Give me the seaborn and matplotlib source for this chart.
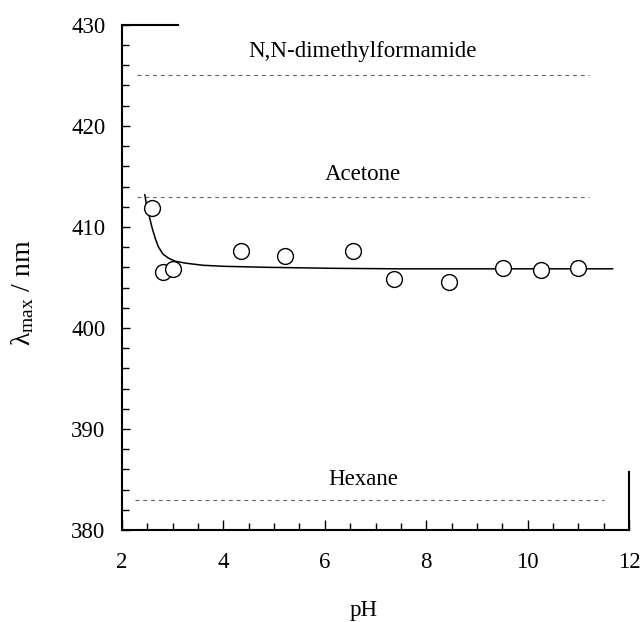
import matplotlib
matplotlib.use("Agg")
import matplotlib.pyplot as plt
from matplotlib.ticker import MultipleLocator
import seaborn as sns
import pandas as pd

# Measured absorption maxima vs. pH
ph_points = [2.59, 2.81, 3.00, 4.35, 5.21, 6.55, 7.37, 8.44, 9.51, 10.26, 10.99]
lambda_points = [411.9, 405.5, 405.8, 407.6, 407.1, 407.6, 404.8, 404.5, 405.9, 405.7, 405.9]

# Fitted curve
ph_curve = [2.45, 2.48, 2.51, 2.55, 2.60, 2.66, 2.72, 2.81, 2.92, 3.05, 3.27, 3.6, 4.0,
            4.85, 6.17, 7.48, 9.5, 11.68]
lambda_curve = [413.2, 412.3, 411.6, 410.8, 409.8, 408.8, 408.0, 407.3, 406.9, 406.6, 406.4,
                406.2, 406.1, 406.0, 405.9, 405.85, 405.85, 405.85]

# Reference solvents
solvents = ["N,N-dimethylformamide", "Acetone", "Hexane"]
solvent_lambda = [425.0, 413.0, 383.0]
solvent_label_y = [427.4, 415.2, 385.0]

sns.set_theme(style="ticks")
plt.rcParams["font.family"] = ["Liberation Serif", "DejaVu Serif"]
plt.rcParams["mathtext.fontset"] = "custom"
plt.rcParams["mathtext.rm"] = "Liberation Serif"
plt.rcParams["mathtext.it"] = "Liberation Serif:italic"
for key in ["text.color", "axes.labelcolor", "xtick.color", "ytick.color",
            "xtick.labelcolor", "ytick.labelcolor"]:
    plt.rcParams[key] = "black"

fig = plt.figure(figsize=(6.42, 6.22), dpi=100)
ax = fig.add_axes([0.190, 0.148, 0.790, 0.812])

for lam in solvent_lambda:
    if lam == 383.0:
        ax.hlines(lam, 2.25, 11.5, colors="#666666", linestyles=(0, (3.5, 3.5)), linewidth=0.8)
    else:
        ax.hlines(lam, 2.3, 11.2, colors="#666666", linestyles=(0, (3.5, 3.5)), linewidth=0.8)

for name, ly in zip(solvents, solvent_label_y):
    ax.text(6.75, ly, name, ha="center", va="center", fontsize=16.5, color="black")

curve = pd.DataFrame({"pH": ph_curve, "lam": lambda_curve})
sns.lineplot(data=curve, x="pH", y="lam", ax=ax, color="black", linewidth=1.1, sort=False)

pts = pd.DataFrame({"pH": ph_points, "lam": lambda_points})
sns.scatterplot(data=pts, x="pH", y="lam", ax=ax, s=130, facecolor="white",
                edgecolor="black", linewidth=1.0, zorder=5)

ax.set_xlim(2, 12)
ax.set_ylim(380, 430)
ax.xaxis.set_major_locator(MultipleLocator(2))
ax.xaxis.set_minor_locator(MultipleLocator(0.5))
ax.yaxis.set_major_locator(MultipleLocator(10))
ax.yaxis.set_minor_locator(MultipleLocator(2))
ax.tick_params(which="both", direction="in", color="black", labelsize=16.5, width=1.0,
               labelcolor="black")
ax.tick_params(which="major", length=7)
ax.tick_params(which="minor", length=5)
ax.tick_params(axis="x", which="major", pad=16)
ax.tick_params(axis="y", which="major", length=6, pad=12)

for side in ["left", "bottom", "top", "right"]:
    ax.spines[side].set_visible(True)
    ax.spines[side].set_color("black")
    ax.spines[side].set_linewidth(1.5)
ax.spines["top"].set_bounds(2, 3.1)
ax.spines["right"].set_bounds(380, 385.7)

ax.set_xlabel("pH", fontsize=16.5)
ax.xaxis.set_label_coords(0.476, -0.138)
ax.set_ylabel(r"λ$_{\rm max}$ / nm", fontsize=20)
ax.yaxis.set_label_coords(-0.17, 0.47)

fig.savefig("out.png", dpi=100)
